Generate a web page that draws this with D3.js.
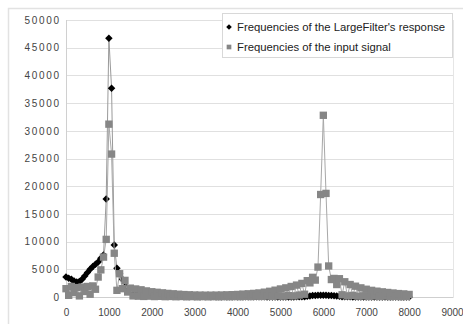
<!DOCTYPE html>
<html>
<head>
<meta charset="utf-8">
<script src="https://cdn.jsdelivr.net/npm/d3@7"></script>
<style>
  body { margin: 0; background: #fff; }
  text { font-family: "Liberation Sans", Arial, sans-serif; }
</style>
</head>
<body>
<svg id="chart" width="463" height="324"></svg>
<script>
// frequency bins (Hz)
const freqs = [0,62.5,125,187.5,250,312.5,375,437.5,500,562.5,625,687.5,750,812.5,875,937.5,
  1000,1062.5,1125,1187.5,1250,1312.5,1375,1437.5,1500,1562.5,1625,1687.5,1750,1812.5,1875,1937.5,
  2000,2062.5,2125,2187.5,2250,2312.5,2375,2437.5,2500,2562.5,2625,2687.5,2750,2812.5,2875,2937.5,
  3000,3062.5,3125,3187.5,3250,3312.5,3375,3437.5,3500,3562.5,3625,3687.5,3750,3812.5,3875,3937.5,
  4000,4062.5,4125,4187.5,4250,4312.5,4375,4437.5,4500,4562.5,4625,4687.5,4750,4812.5,4875,4937.5,
  5000,5062.5,5125,5187.5,5250,5312.5,5375,5437.5,5500,5562.5,5625,5687.5,5750,5812.5,5875,5937.5,
  6000,6062.5,6125,6187.5,6250,6312.5,6375,6437.5,6500,6562.5,6625,6687.5,6750,6812.5,6875,6937.5,
  7000,7062.5,7125,7187.5,7250,7312.5,7375,7437.5,7500,7562.5,7625,7687.5,7750,7812.5,7875,7937.5,
  8000];

// Frequencies of the LargeFilter's response
const response = [3600,3400,3200,2900,2700,2800,3200,3800,
  4400,5000,5500,5900,6300,7000,7600,17700,
  46700,37700,9400,5200,4200,3200,2000,1600,
  1200,1000,850,700,600,520,450,400,
  350,310,280,250,230,210,190,170,
  160,150,140,130,120,110,110,100,
  100,90,90,80,80,80,70,70,
  70,60,60,60,60,50,50,50,
  50,50,40,40,40,40,30,30,
  30,30,30,20,20,20,20,20,
  20,20,20,20,20,20,30,30,
  40,60,120,200,250,280,300,320,
  330,310,290,260,230,180,120,60,
  40,30,30,20,20,20,20,20,
  20,20,20,10,10,10,10,10,
  10,10,10,10,10,10,10,10,10];

// Frequencies of the input signal
const inputSignal = [1500,300,1900,800,1700,200,1800,1000,
  1900,500,2000,1400,3600,4900,7200,10400,
  31200,25800,7900,1200,4200,1500,3000,900,
  1600,200,1450,150,1300,100,1100,150,
  950,80,850,120,750,60,650,100,
  580,50,500,90,440,40,400,80,
  360,30,340,70,330,40,330,60,
  340,40,360,80,390,50,420,90,
  460,60,520,110,580,80,650,130,
  730,100,870,160,1030,120,1230,200,
  1450,150,1650,250,1900,200,2150,350,
  2450,500,2950,2550,3550,3050,5400,18500,
  32800,18700,5600,3150,3350,2250,3300,400,
  2750,200,2250,300,1950,150,1650,200,
  1400,100,1200,180,1050,90,930,150,
  820,70,720,120,620,60,560,100,460];

const xTicks = [0,1000,2000,3000,4000,5000,6000,7000,8000,9000];
const yTicks = [0,5000,10000,15000,20000,25000,30000,35000,40000,45000,50000];
const seriesNames = ["Frequencies of the LargeFilter's response", "Frequencies of the input signal"];

const svg = d3.select("#chart");
const plotLeft = 66, plotRight = 452, plotTop = 20, plotBottom = 297;

const x = d3.scaleLinear().domain([0, 9000]).range([plotLeft, plotRight]);
const y = d3.scaleLinear().domain([0, 50000]).range([plotBottom, plotTop]);

svg.append("rect").attr("width", 463).attr("height", 324).attr("fill", "#fff");
// outer chart border
svg.append("rect").attr("x", 8.5).attr("y", 8.5).attr("width", 470).attr("height", 330)
  .attr("fill", "none").attr("stroke", "#e2e2e2").attr("stroke-width", 1.5);

// horizontal gridlines
svg.append("g").selectAll("line").data(yTicks).join("line")
  .attr("x1", plotLeft).attr("x2", plotRight + 1)
  .attr("y1", d => Math.round(y(d)) + 0.5).attr("y2", d => Math.round(y(d)) + 0.5)
  .attr("stroke", "#e0e0e0");

// plot frame (left axis / right edge / baseline)
svg.append("line").attr("x1", plotLeft + 0.5).attr("x2", plotLeft + 0.5).attr("y1", plotTop).attr("y2", plotBottom + 1)
  .attr("stroke", "#d0d0d0");
svg.append("line").attr("x1", plotRight + 1.5).attr("x2", plotRight + 1.5).attr("y1", plotTop).attr("y2", plotBottom + 1)
  .attr("stroke", "#e6e6e6");
svg.append("line").attr("x1", plotLeft).attr("x2", plotRight + 1).attr("y1", plotBottom + 0.5).attr("y2", plotBottom + 0.5)
  .attr("stroke", "#cfcfcf");

// axis labels
const yAxis = d3.axisLeft(y).tickValues(yTicks).tickSize(0).tickPadding(0).tickFormat(d3.format("d"));
const gy = svg.append("g").attr("transform", `translate(${plotLeft - 7},0)`).call(yAxis);
gy.select(".domain").remove();
gy.selectAll("text").attr("font-size", 10).attr("fill", "#444")
  .attr("letter-spacing", "1.7px").attr("dx", "1.7");

const xAxis = d3.axisBottom(x).tickValues(xTicks).tickSize(0).tickPadding(0).tickFormat(d3.format("d"));
const gx = svg.append("g").attr("transform", `translate(0,${plotBottom + 12})`).call(xAxis);
gx.select(".domain").remove();
gx.selectAll("text").attr("font-size", 10).attr("fill", "#444");

// series
const series = [
  { name: seriesNames[0], values: response, line: "#9a9a9a", fill: "#000", shape: "diamond" },
  { name: seriesNames[1], values: inputSignal, line: "#a8a8a8", fill: "#868686", shape: "square" }
];

const line = d3.line().x(d => x(d[0])).y(d => y(d[1]));
const diamond = d3.symbol().type(d3.symbolSquare).size(28)();
const square = d3.symbol().type(d3.symbolSquare).size(54)();

series.forEach(s => {
  const pts = freqs.map((f, i) => [f, s.values[i]]);
  svg.append("path").datum(pts).attr("d", line)
    .attr("fill", "none").attr("stroke", s.line).attr("stroke-width", 1);
  svg.append("g").selectAll("path").data(pts).join("path")
    .attr("d", s.shape === "diamond" ? diamond : square)
    .attr("transform", d => `translate(${x(d[0])},${y(d[1])})` + (s.shape === "diamond" ? " rotate(45)" : ""))
    .attr("fill", s.fill);
});

// legend
const lg = svg.append("g");
lg.append("rect").attr("x", 222.5).attr("y", 13.5).attr("width", 230).attr("height", 44)
  .attr("fill", "#fff").attr("stroke", "#d8d8d8");
series.forEach((s, i) => {
  const cy = 27 + i * 20;
  lg.append("path").attr("d", d3.symbol().type(d3.symbolSquare).size(s.shape === "diamond" ? 16 : 22)())
    .attr("transform", `translate(229,${cy})` + (s.shape === "diamond" ? " rotate(45)" : ""))
    .attr("fill", s.fill);
  lg.append("text").attr("x", 237).attr("y", cy + 4).attr("font-size", 11.3).attr("fill", "#222")
    .text(s.name);
});
</script>
</body>
</html>
